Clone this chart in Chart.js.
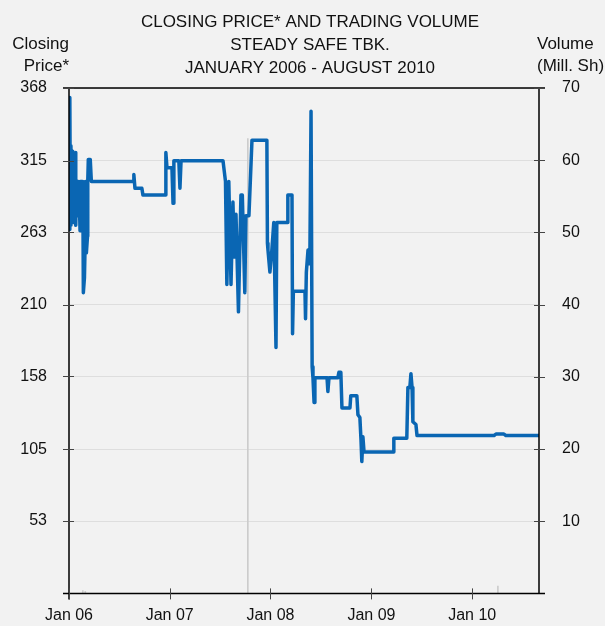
<!DOCTYPE html>
<html>
<head>
<meta charset="utf-8">
<script src="https://cdn.jsdelivr.net/npm/chart.js@4.4.0/dist/chart.umd.min.js"></script>
<style>
html,body{margin:0;padding:0;background:#f2f2f2;}
</style>
</head>
<body>
<canvas id="chart" width="605" height="626"></canvas>
<script>
const titleLines = ["CLOSING PRICE* AND TRADING VOLUME", "STEADY SAFE TBK.", "JANUARY 2006 - AUGUST 2010"];
const leftTitle = ["Closing", "Price*"];
const rightTitle = ["Volume", "(Mill. Sh)"];

// closing price
const priceDates = [
  "2006-01-03","2006-01-04","2006-01-06","2006-01-08","2006-01-10","2006-01-12","2006-01-14","2006-01-15",
  "2006-01-17","2006-01-21","2006-01-23","2006-01-25","2006-01-26","2006-01-28","2006-02-01","2006-02-02",
  "2006-02-06","2006-02-10","2006-02-11","2006-02-15","2006-02-17","2006-02-20","2006-02-22","2006-02-26",
  "2006-02-28","2006-03-01","2006-03-05","2006-03-09","2006-03-10","2006-03-12","2006-03-19","2006-03-23",
  "2006-08-21","2006-08-24","2006-08-28","2006-09-22","2006-09-26","2006-12-15","2006-12-18","2006-12-22",
  "2007-01-09","2007-01-13","2007-01-16","2007-02-03","2007-02-07","2007-02-11","2007-07-13","2007-07-16",
  "2007-07-22","2007-07-27","2007-08-03","2007-08-11","2007-08-18","2007-08-23","2007-08-29","2007-09-07",
  "2007-09-16","2007-09-21","2007-09-30","2007-10-04","2007-10-15","2007-10-26","2007-12-19","2007-12-21",
  "2007-12-23","2007-12-30","2008-01-06","2008-01-13","2008-01-21","2008-01-24","2008-03-01","2008-03-04",
  "2008-03-19","2008-03-21","2008-03-24","2008-05-05","2008-05-07","2008-05-10","2008-05-16","2008-05-19",
  "2008-05-23","2008-05-27","2008-05-31","2008-06-03","2008-06-07","2008-06-10","2008-07-24","2008-07-27",
  "2008-07-31","2008-09-01","2008-09-05","2008-09-12","2008-09-16","2008-10-15","2008-10-18","2008-11-09",
  "2008-11-13","2008-11-20","2008-11-24","2008-11-27","2008-12-01","2008-12-05","2009-03-20","2009-03-23",
  "2009-05-09","2009-05-13","2009-05-20","2009-05-24","2009-05-28","2009-05-31","2009-06-11","2009-06-15",
  "2010-03-21","2010-03-28","2010-04-26","2010-05-03","2010-08-31"
];
const prices = [
  265,361,268,326,290,318,296,322,
  270,320,285,321,268,300,300,275,
  300,264,300,300,283,300,219,230,
  250,300,248,260,300,316,316,300,
  300,305,295,295,290,290,321,310,
  310,284,315,315,295,315,315,310,
  300,225,300,225,285,245,276,205,
  290,290,219,275,275,330,330,255,
  250,234,250,270,179,270,270,290,
  290,189,220,220,200,234,250,240,
  250,351,165,157,139,157,157,147,
  157,157,161,161,135,135,144,144,
  130,128,112,96,114,103,103,113,
  113,150,150,160,150,125,123,115,
  115,116,116,115,115
];

// trading volume (Mill. Sh)
const volumeDates = ["2006-02-20", "2006-03-01", "2007-10-11", "2010-04-04"];
const volumes = [0.4, 0.3, 63, 1];

const yearTicks = ["2006-01-01", "2007-01-01", "2008-01-01", "2009-01-01", "2010-01-01"];
const yearLabels = ["Jan 06", "Jan 07", "Jan 08", "Jan 09", "Jan 10"];
const priceTicks = [53, 105, 158, 210, 263, 315, 368];
const volumeTicks = [10, 20, 30, 40, 50, 60, 70];

const toMs = s => Date.parse(s + "T00:00:00Z");
const FONT = '"Liberation Sans", Arial, sans-serif';

const decor = {
  id: "decor",
  afterDraw(chart) {
    const { ctx, chartArea: a, scales } = chart;
    ctx.save();
    // frame
    ctx.strokeStyle = "#000";
    ctx.lineWidth = 1.5;
    ctx.beginPath();
    ctx.moveTo(a.left - 6, a.top); ctx.lineTo(a.right + 6, a.top);
    ctx.moveTo(a.left - 6, a.bottom); ctx.lineTo(a.right + 6, a.bottom);
    ctx.moveTo(a.left, a.top); ctx.lineTo(a.left, a.bottom + 6);
    ctx.moveTo(a.right, a.top); ctx.lineTo(a.right, a.bottom);
    ctx.stroke();
    // tick marks across the axes
    ctx.strokeStyle = "#444";
    ctx.lineWidth = 1;
    ctx.beginPath();
    priceTicks.forEach(v => {
      const y = Math.round(scales.yPrice.getPixelForValue(v)) + 0.5;
      ctx.moveTo(a.left - 6, y); ctx.lineTo(a.left + 5, y);
    });
    volumeTicks.forEach(v => {
      const y = Math.round(scales.yVol.getPixelForValue(v)) + 0.5;
      ctx.moveTo(a.right - 5, y); ctx.lineTo(a.right + 6, y);
    });
    yearTicks.forEach(d => {
      const x = Math.round(scales.x.getPixelForValue(toMs(d))) + 0.5;
      ctx.moveTo(x, a.bottom - 5); ctx.lineTo(x, a.bottom + 6);
    });
    ctx.stroke();
    // titles
    ctx.fillStyle = "#111";
    ctx.font = "17px " + FONT;
    ctx.textAlign = "center";
    ctx.textBaseline = "alphabetic";
    titleLines.forEach((t, i) => ctx.fillText(t, 310, 27 + i * 23));
    ctx.textAlign = "right";
    leftTitle.forEach((t, i) => ctx.fillText(t, 69, 49 + i * 22));
    ctx.textAlign = "left";
    rightTitle.forEach((t, i) => ctx.fillText(t, 537, 49 + i * 22));
    ctx.restore();
  }
};

new Chart(document.getElementById("chart"), {
  type: "line",
  data: {
    datasets: [
      {
        type: "line",
        data: priceDates.map((d, i) => ({ x: toMs(d), y: prices[i] })),
        yAxisID: "yPrice",
        borderColor: "#0a66b3",
        borderWidth: 3.5,
        borderJoinStyle: "round",
        borderCapStyle: "round",
        pointRadius: 0,
        tension: 0,
        order: 1
      },
      {
        type: "bar",
        data: volumeDates.map((d, i) => ({ x: toMs(d), y: volumes[i] })),
        yAxisID: "yVol",
        backgroundColor: "#cccccc",
        barThickness: 1,
        order: 2
      }
    ]
  },
  options: {
    responsive: false,
    animation: false,
    layout: { padding: { top: 88, left: 0, right: 0, bottom: 0 } },
    plugins: { legend: { display: false }, tooltip: { enabled: false } },
    scales: {
      x: {
        type: "linear",
        offset: false,
        min: toMs("2006-01-01"),
        max: toMs("2010-08-31"),
        afterBuildTicks: s => { s.ticks = yearTicks.map(d => ({ value: toMs(d) })); },
        afterFit: s => { s.height = 31; },
        ticks: {
          callback: (v, i) => yearLabels[i],
          font: { family: FONT, size: 16 },
          color: "#111",
          padding: 13,
          maxRotation: 0,
          autoSkip: false
        },
        grid: { display: false, drawTicks: false, offset: false },
        border: { display: false }
      },
      yPrice: {
        position: "left",
        min: 0,
        max: 368,
        afterBuildTicks: s => { s.ticks = priceTicks.map(v => ({ value: v })); },
        afterFit: s => { s.width = 69; },
        ticks: {
          callback: (v, i) => String(priceTicks[i]),
          font: { family: FONT, size: 16 },
          color: "#111",
          padding: 22
        },
        grid: { display: false, drawTicks: false },
        border: { display: false }
      },
      yVol: {
        position: "right",
        min: 0,
        max: 70,
        afterBuildTicks: s => { s.ticks = volumeTicks.map(v => ({ value: v })); },
        afterFit: s => { s.width = 66; },
        ticks: {
          callback: (v, i) => String(volumeTicks[i]),
          font: { family: FONT, size: 16 },
          color: "#111",
          padding: 23
        },
        grid: { color: "#dedede", drawTicks: false },
        border: { display: false }
      }
    }
  },
  plugins: [decor]
});
</script>
</body>
</html>
